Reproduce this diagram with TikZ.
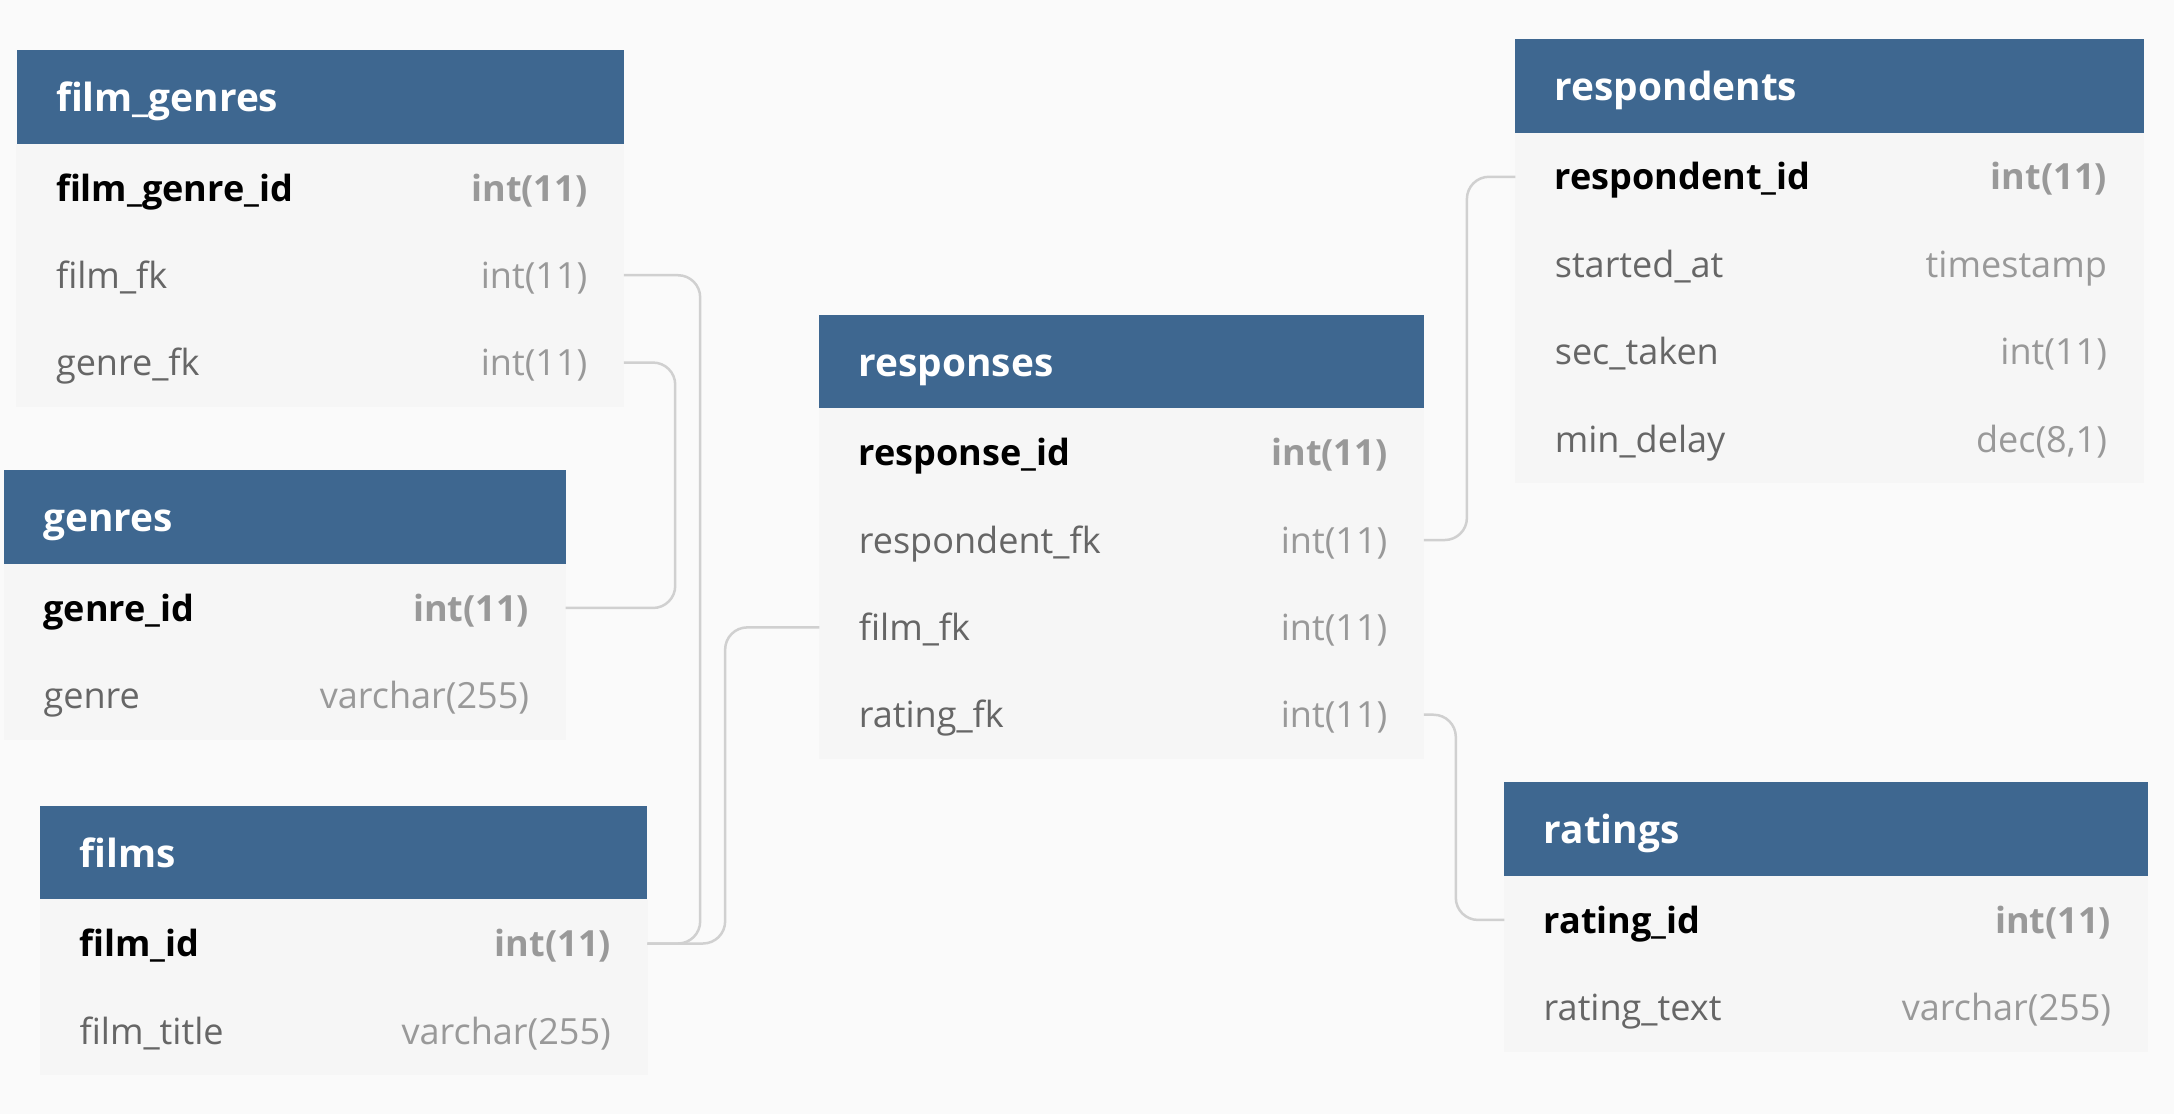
\documentclass[tikz,border=0pt]{standalone}
\usepackage{fontspec}
\setmainfont{Open Sans}
\usetikzlibrary{positioning}

\definecolor{hdblue}{HTML}{3E6790}
\definecolor{rowgray}{HTML}{F6F6F6}
\definecolor{bggray}{HTML}{FAFAFA}
\definecolor{linegray}{HTML}{D0D0D0}
\definecolor{namegray}{HTML}{666666}
\definecolor{typegray}{HTML}{999999}

\newcommand{\hdfont}{\fontsize{14}{16}\selectfont\bfseries}
\newcommand{\rowfont}{\fontsize{13}{15}\selectfont}

\tikzset{
    tblhead/.style={fill=hdblue, minimum width=#1, minimum height=34pt, inner sep=0pt, outer sep=0pt, anchor=north west},
    tblrow/.style={fill=rowgray, draw=rowgray, line width=0.4pt, minimum width=#1, minimum height=31.5pt, inner sep=0pt, outer sep=0pt},
    tbltitle/.style={text=white, font=\hdfont, anchor=west, xshift=14pt, inner sep=0pt, text height=13.5pt, text depth=3pt},
    pkname/.style={text=black, font=\rowfont\bfseries, anchor=west, xshift=14pt, inner sep=0pt, text height=12.5pt, text depth=3pt},
    pktype/.style={text=typegray, font=\rowfont\bfseries, anchor=east, xshift=-13pt, inner sep=0pt, text height=12.5pt, text depth=3pt},
    colname/.style={text=namegray, font=\rowfont, anchor=west, xshift=14pt, inner sep=0pt, text height=12.5pt, text depth=3pt},
    coltype/.style={text=typegray, font=\rowfont, anchor=east, xshift=-13pt, inner sep=0pt, text height=12.5pt, text depth=3pt},
    link/.style={draw=linegray, line width=0.9pt, rounded corners=8pt}
}

\begin{document}
\begin{tikzpicture}[x=0.5pt, y=-0.5pt]
    % background
    \fill[bggray] (0,0) rectangle (1568,803.5);

    % film_genres
    \node[tblhead=219pt] (fg) at (12,36) {};
    \node[tbltitle] at (fg.west) {film\_genres};
    \node[tblrow=219pt, below=0pt of fg] (fg-id) {};
    \node[pkname] at (fg-id.west) {film\_genre\_id};
    \node[pktype] at (fg-id.east) {int(11)};
    \node[tblrow=219pt, below=0pt of fg-id] (fg-film) {};
    \node[colname] at (fg-film.west) {film\_fk};
    \node[coltype] at (fg-film.east) {int(11)};
    \node[tblrow=219pt, below=0pt of fg-film] (fg-genre) {};
    \node[colname] at (fg-genre.west) {genre\_fk};
    \node[coltype] at (fg-genre.east) {int(11)};

    % genres
    \node[tblhead=202.5pt] (gn) at (3,339) {};
    \node[tbltitle] at (gn.west) {genres};
    \node[tblrow=202.5pt, below=0pt of gn] (gn-id) {};
    \node[pkname] at (gn-id.west) {genre\_id};
    \node[pktype] at (gn-id.east) {int(11)};
    \node[tblrow=202.5pt, below=0pt of gn-id] (gn-genre) {};
    \node[colname] at (gn-genre.west) {genre};
    \node[coltype] at (gn-genre.east) {varchar(255)};

    % films
    \node[tblhead=219pt] (fl) at (29,581) {};
    \node[tbltitle] at (fl.west) {films};
    \node[tblrow=219pt, below=0pt of fl] (fl-id) {};
    \node[pkname] at (fl-id.west) {film\_id};
    \node[pktype] at (fl-id.east) {int(11)};
    \node[tblrow=219pt, below=0pt of fl-id] (fl-title) {};
    \node[colname] at (fl-title.west) {film\_title};
    \node[coltype] at (fl-title.east) {varchar(255)};

    % responses
    \node[tblhead=218pt] (rs) at (591,227) {};
    \node[tbltitle] at (rs.west) {responses};
    \node[tblrow=218pt, below=0pt of rs] (rs-id) {};
    \node[pkname] at (rs-id.west) {response\_id};
    \node[pktype] at (rs-id.east) {int(11)};
    \node[tblrow=218pt, below=0pt of rs-id] (rs-resp) {};
    \node[colname] at (rs-resp.west) {respondent\_fk};
    \node[coltype] at (rs-resp.east) {int(11)};
    \node[tblrow=218pt, below=0pt of rs-resp] (rs-film) {};
    \node[colname] at (rs-film.west) {film\_fk};
    \node[coltype] at (rs-film.east) {int(11)};
    \node[tblrow=218pt, below=0pt of rs-film] (rs-rating) {};
    \node[colname] at (rs-rating.west) {rating\_fk};
    \node[coltype] at (rs-rating.east) {int(11)};

    % respondents
    \node[tblhead=226.5pt] (rp) at (1093,28) {};
    \node[tbltitle] at (rp.west) {respondents};
    \node[tblrow=226.5pt, below=0pt of rp] (rp-id) {};
    \node[pkname] at (rp-id.west) {respondent\_id};
    \node[pktype] at (rp-id.east) {int(11)};
    \node[tblrow=226.5pt, below=0pt of rp-id] (rp-start) {};
    \node[colname] at (rp-start.west) {started\_at};
    \node[coltype] at (rp-start.east) {timestamp};
    \node[tblrow=226.5pt, below=0pt of rp-start] (rp-sec) {};
    \node[colname] at (rp-sec.west) {sec\_taken};
    \node[coltype] at (rp-sec.east) {int(11)};
    \node[tblrow=226.5pt, below=0pt of rp-sec] (rp-delay) {};
    \node[colname] at (rp-delay.west) {min\_delay};
    \node[coltype] at (rp-delay.east) {dec(8,1)};

    % ratings
    \node[tblhead=232pt] (rt) at (1085,564) {};
    \node[tbltitle] at (rt.west) {ratings};
    \node[tblrow=232pt, below=0pt of rt] (rt-id) {};
    \node[pkname] at (rt-id.west) {rating\_id};
    \node[pktype] at (rt-id.east) {int(11)};
    \node[tblrow=232pt, below=0pt of rt-id] (rt-text) {};
    \node[colname] at (rt-text.west) {rating\_text};
    \node[coltype] at (rt-text.east) {varchar(255)};

    % links
    \draw[link] (fg-film.east) -- ++(55,0) |- (fl-id.east);
    \draw[link] (fg-genre.east) -- ++(37,0) |- (gn-id.east);
    \draw[link] (rs-film.west) -- ++(-68,0) |- (fl-id.east);
    \draw[link] (rs-resp.east) -- ++(31,0) |- (rp-id.west);
    \draw[link] (rs-rating.east) -- ++(23,0) |- (rt-id.west);
\end{tikzpicture}
\end{document}
